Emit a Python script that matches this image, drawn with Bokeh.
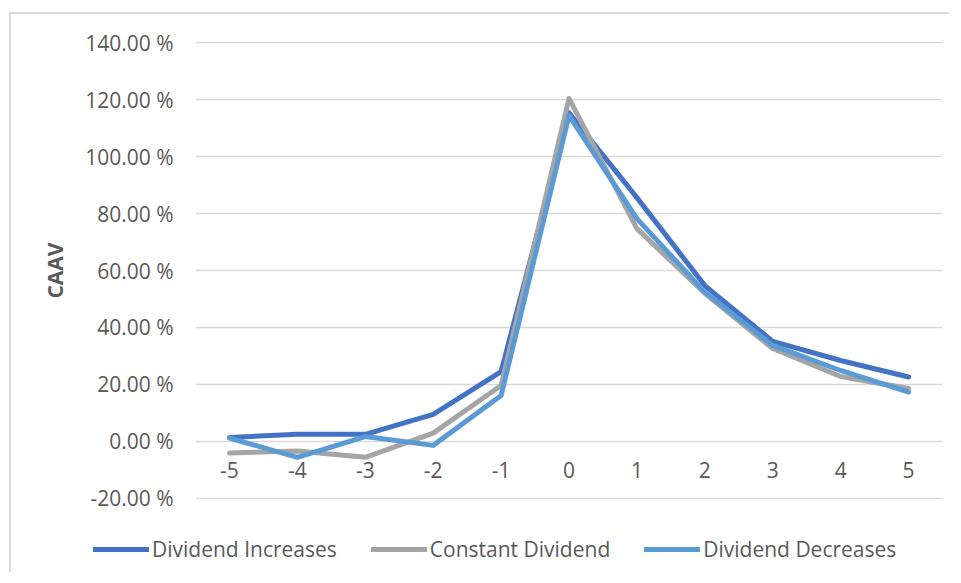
from bokeh.plotting import figure
from bokeh.models import (Range1d, FixedTicker, PrintfTickFormatter, Legend, LegendItem,
                          ColumnDataSource)
from bokeh.core.properties import value
from bokeh.embed import file_html
from bokeh.resources import INLINE

# ---- data (values in percent) ----
days = [-5, -4, -3, -2, -1, 0, 1, 2, 3, 4, 5]
day_labels = ["-5", "-4", "-3", "-2", "-1", "0", "1", "2", "3", "4", "5"]
dividend_increases = [1.4, 2.5, 2.5, 9.5, 24.5, 115.4, 85.6, 54.7, 35.1, 28.4, 22.6]
constant_dividend = [-4.1, -3.4, -5.6, 2.9, 19.6, 120.4, 74.7, 52.0, 32.6, 22.8, 18.6]
dividend_decreases = [1.2, -5.6, 1.7, -1.4, 16.1, 114.4, 78.2, 52.4, 33.7, 24.9, 17.3]
y_ticks = [-20, 0, 20, 40, 60, 80, 100, 120, 140]
series_names = ["Dividend Increases", "Constant Dividend", "Dividend Decreases"]
series_colors = ["#4472C4", "#A5A5A5", "#5B9BD5"]
series_values = [dividend_increases, constant_dividend, dividend_decreases]

FONT = "Open Sans"
FS = "21px"
TXT = "#595959"
LW = 5

# ---------------- main chart ----------------
p = figure(width=940, height=520, output_backend="svg", toolbar_location=None,
           x_range=Range1d(-5.5, 5.5), y_range=Range1d(-20.4, 140.4),
           min_border_left=184, min_border_right=9, min_border_top=27, min_border_bottom=35)
p.margin = (12, 0, 0, 9)
p.styles = {"border-left": "2px solid #d9d9d9", "border-top": "2px solid #d9d9d9"}
p.outline_line_color = None
p.background_fill_color = "white"
p.border_fill_color = "white"
p.xaxis.visible = False
p.xgrid.visible = False

yax = p.yaxis[0]
yax.ticker = FixedTicker(ticks=y_ticks)
yax.formatter = PrintfTickFormatter(format="%.2f %%")
yax.axis_line_color = None
yax.major_tick_line_color = None
yax.minor_tick_line_color = None
yax.major_tick_out = 0
yax.major_tick_in = 0
yax.major_label_standoff = 22
yax.major_label_text_font = FONT
yax.major_label_text_font_size = FS
yax.major_label_text_color = TXT
yax.axis_label = "CAAV"
yax.axis_label_text_font = FONT
yax.axis_label_text_font_size = FS
yax.axis_label_text_font_style = "bold"
yax.axis_label_text_color = TXT
yax.axis_label_standoff = 13

p.ygrid.ticker = FixedTicker(ticks=y_ticks)
p.ygrid.grid_line_color = "#d9d9d9"
p.ygrid.grid_line_width = 1.6

# category labels sit next to the zero line (horizontal axis crosses at 0)
lab_src = ColumnDataSource(dict(x=days, y=[0] * len(days), t=day_labels))
p.text(x="x", y="y", text="t", source=lab_src, text_align="center", text_baseline="middle",
       y_offset=29, text_font=value(FONT), text_font_size=FS, text_color=TXT)

for vals, col in zip(series_values, series_colors):
    p.line(days, vals, line_color=col, line_width=LW, line_join="round", line_cap="round")

# ---------------- legend strip ----------------
# same series drawn again, but this strip's y range is far away from the data,
# so only the legend entries are visible here
lg = figure(width=940, height=40, output_backend="svg", toolbar_location=None,
            x_range=Range1d(-5.5, 5.5), y_range=Range1d(1000, 1001),
            x_axis_location=None, y_axis_location=None,
            min_border_left=0, min_border_right=0, min_border_top=0, min_border_bottom=0)
lg.margin = (0, 0, 0, 9)
lg.styles = {"border-left": "2px solid #d9d9d9"}
lg.outline_line_color = None
lg.grid.visible = False
lg.background_fill_color = "white"
lg.border_fill_color = "white"
items = []
for name, vals, col in zip(series_names, series_values, series_colors):
    r = lg.line(days, vals, line_color=col, line_width=LW, line_cap="round")
    items.append(LegendItem(label=name, renderers=[r]))

legend = Legend(items=items, orientation="horizontal", location=(82, 9))
legend.border_line_alpha = 0
legend.background_fill_alpha = 0
legend.label_text_font = FONT
legend.label_text_font_size = FS
legend.label_text_color = TXT
legend.glyph_width = 56
legend.glyph_height = 20
legend.label_height = 20
legend.label_standoff = 3
legend.spacing = 34
legend.padding = 0
legend.margin = 0
lg.add_layout(legend, "center")

open("out.html", "w").write(file_html([p, lg], INLINE))
